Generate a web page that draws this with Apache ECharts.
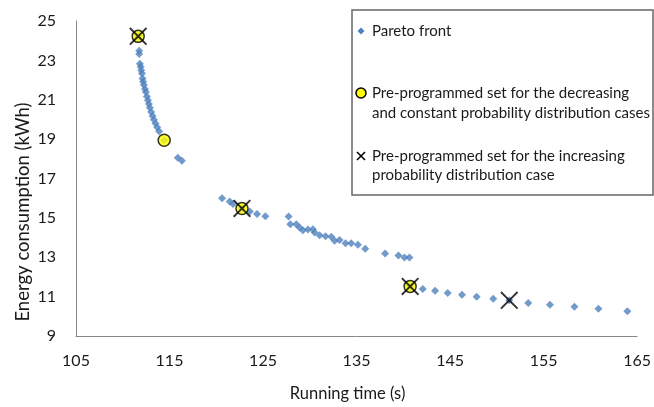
<!DOCTYPE html>
<html>
<head>
<meta charset="utf-8">
<script src="https://cdn.jsdelivr.net/npm/echarts@6/dist/echarts.min.js"></script>
<style>
  html, body { margin: 0; padding: 0; background: #fff; }
  #chart { width: 654px; height: 407px; }
</style>
</head>
<body>
<div id="chart"></div>
<script>
// Pareto front: running time (s) vs energy consumption (kWh)
const paretoTime = [
  111.65, 111.76, 111.76, 111.83, 111.91, 111.97, 112.05, 112.12, 112.18, 112.26,
  112.37, 112.47, 112.58, 112.69, 112.79, 112.90, 113.04, 113.19, 113.33, 113.51,
  113.68, 113.89, 114.43, 115.89, 116.32, 120.62, 121.44, 121.79, 122.75, 123.58,
  124.36, 125.25, 127.74, 127.92, 128.56, 128.91, 129.27, 129.80, 130.33, 130.52,
  131.05, 131.69, 132.30, 132.65, 133.18, 133.82, 134.43, 135.14, 135.93, 138.06,
  139.48, 140.12, 140.66, 140.73, 142.08, 143.40, 144.75, 146.28, 147.84, 149.62,
  151.33, 153.36, 155.68, 158.30, 160.87, 163.96
];
const paretoEnergy = [
  24.22, 23.49, 23.33, 22.83, 22.67, 22.50, 22.33, 22.08, 21.92, 21.75,
  21.55, 21.39, 21.17, 20.98, 20.79, 20.59, 20.38, 20.18, 19.98, 19.80,
  19.60, 19.40, 18.94, 18.05, 17.90, 16.00, 15.83, 15.70, 15.48, 15.32,
  15.20, 15.08, 15.07, 14.67, 14.67, 14.51, 14.37, 14.41, 14.42, 14.26,
  14.12, 14.07, 14.04, 13.84, 13.88, 13.71, 13.71, 13.63, 13.43, 13.19,
  13.09, 12.99, 12.99, 11.52, 11.39, 11.30, 11.19, 11.09, 11.00, 10.89,
  10.81, 10.68, 10.59, 10.48, 10.38, 10.26
];

// Pre-programmed set: decreasing and constant probability distribution cases
const decreasingTime = [111.65, 114.43, 122.75, 140.73];
const decreasingEnergy = [24.22, 18.94, 15.48, 11.52];

// Pre-programmed set: increasing probability distribution case
const increasingTime = [111.65, 122.75, 140.73, 151.33];
const increasingEnergy = [24.22, 15.48, 11.52, 10.81];

// Axis ticks
const xTicks = [105, 115, 125, 135, 145, 155, 165];
const yTicks = [9, 11, 13, 15, 17, 19, 21, 23, 25];

const legendLabels = [
  ['Pareto front'],
  ['Pre-programmed set for the decreasing', 'and constant probability distribution cases'],
  ['Pre-programmed set for the increasing', 'probability distribution case']
];

const pairs = (xs, ys) => xs.map((x, i) => [x, ys[i]]);

const FONT = 'Lato';
const TEXT = '#1a1a1a';
const crossPath = 'path://M1.5,0 L10,8.5 L18.5,0 L20,1.5 L11.5,10 L20,18.5 L18.5,20 L10,11.5 L1.5,20 L0,18.5 L8.5,10 L0,1.5 Z';

const chart = echarts.init(document.getElementById('chart'), null, { renderer: 'canvas' });

// Legend box drawn with graphic elements
const legendGraphic = [
  { type: 'rect', shape: { x: 352, y: 10, width: 301, height: 185 },
    style: { fill: '#fff', stroke: '#666', lineWidth: 1.5 }, z: 10 },
  { type: 'polygon', shape: { points: [[361, 27.5], [364.5, 31], [361, 34.5], [357.5, 31]] },
    style: { fill: '#4F81BD' }, z: 11 },
  { type: 'circle', shape: { cx: 361, cy: 93, r: 5 },
    style: { fill: '#FFFF00', stroke: '#000', lineWidth: 1.5 }, z: 11 },
  { type: 'line', shape: { x1: 357, y1: 152, x2: 365, y2: 160 },
    style: { stroke: '#000', lineWidth: 1.6 }, z: 11 },
  { type: 'line', shape: { x1: 365, y1: 152, x2: 357, y2: 160 },
    style: { stroke: '#000', lineWidth: 1.6 }, z: 11 }
];
const legendTextY = [[31], [93, 113], [156, 175]];
legendLabels.forEach((lines, i) => {
  lines.forEach((t, j) => {
    legendGraphic.push({
      type: 'text', x: 372, y: legendTextY[i][j], z: 11,
      style: { text: t, font: '15px ' + FONT, fill: TEXT, verticalAlign: 'middle', align: 'left' }
    });
  });
});

// Rotated y-axis title
legendGraphic.push({
  type: 'text', x: 23, y: 212, rotation: Math.PI / 2, z: 11,
  style: { text: 'Energy consumption (kWh)', font: '18.5px ' + FONT, fill: TEXT,
           align: 'center', verticalAlign: 'middle' }
});

chart.setOption({
  animation: false,
  backgroundColor: '#fff',
  grid: { left: 76, right: 16, top: 21, bottom: 64 },
  xAxis: {
    type: 'value',
    min: xTicks[0], max: xTicks[xTicks.length - 1], interval: xTicks[1] - xTicks[0],
    name: 'Running time (s)', nameLocation: 'middle', nameGap: 49,
    nameTextStyle: { fontFamily: FONT, fontSize: 16.5, color: TEXT, padding: [0, 18, 0, 0] },
    axisLine: { lineStyle: { color: '#888', width: 1 } },
    axisTick: { show: false },
    splitLine: { show: false },
    axisLabel: { fontFamily: FONT, fontSize: 16, color: TEXT, margin: 17 }
  },
  yAxis: {
    type: 'value',
    min: yTicks[0], max: yTicks[yTicks.length - 1], interval: yTicks[1] - yTicks[0],
    axisLine: { show: true, lineStyle: { color: '#888', width: 1 } },
    axisTick: { show: false },
    splitLine: { show: false },
    axisLabel: { fontFamily: FONT, fontSize: 16, color: TEXT, margin: 20 }
  },
  graphic: legendGraphic,
  series: [
    {
      name: 'Pareto front', type: 'scatter', symbol: 'diamond', symbolSize: 8,
      itemStyle: { color: '#4F81BD' },
      data: pairs(paretoTime, paretoEnergy)
    },
    {
      name: 'Decreasing', type: 'scatter', symbol: 'circle', symbolSize: 12,
      itemStyle: { color: '#FFFF00', borderColor: '#000', borderWidth: 1.5 },
      data: pairs(decreasingTime, decreasingEnergy)
    },
    {
      name: 'Increasing', type: 'scatter', symbol: crossPath, symbolSize: 18,
      itemStyle: { color: '#000' },
      data: pairs(increasingTime, increasingEnergy)
    }
  ]
});
</script>
</body>
</html>
